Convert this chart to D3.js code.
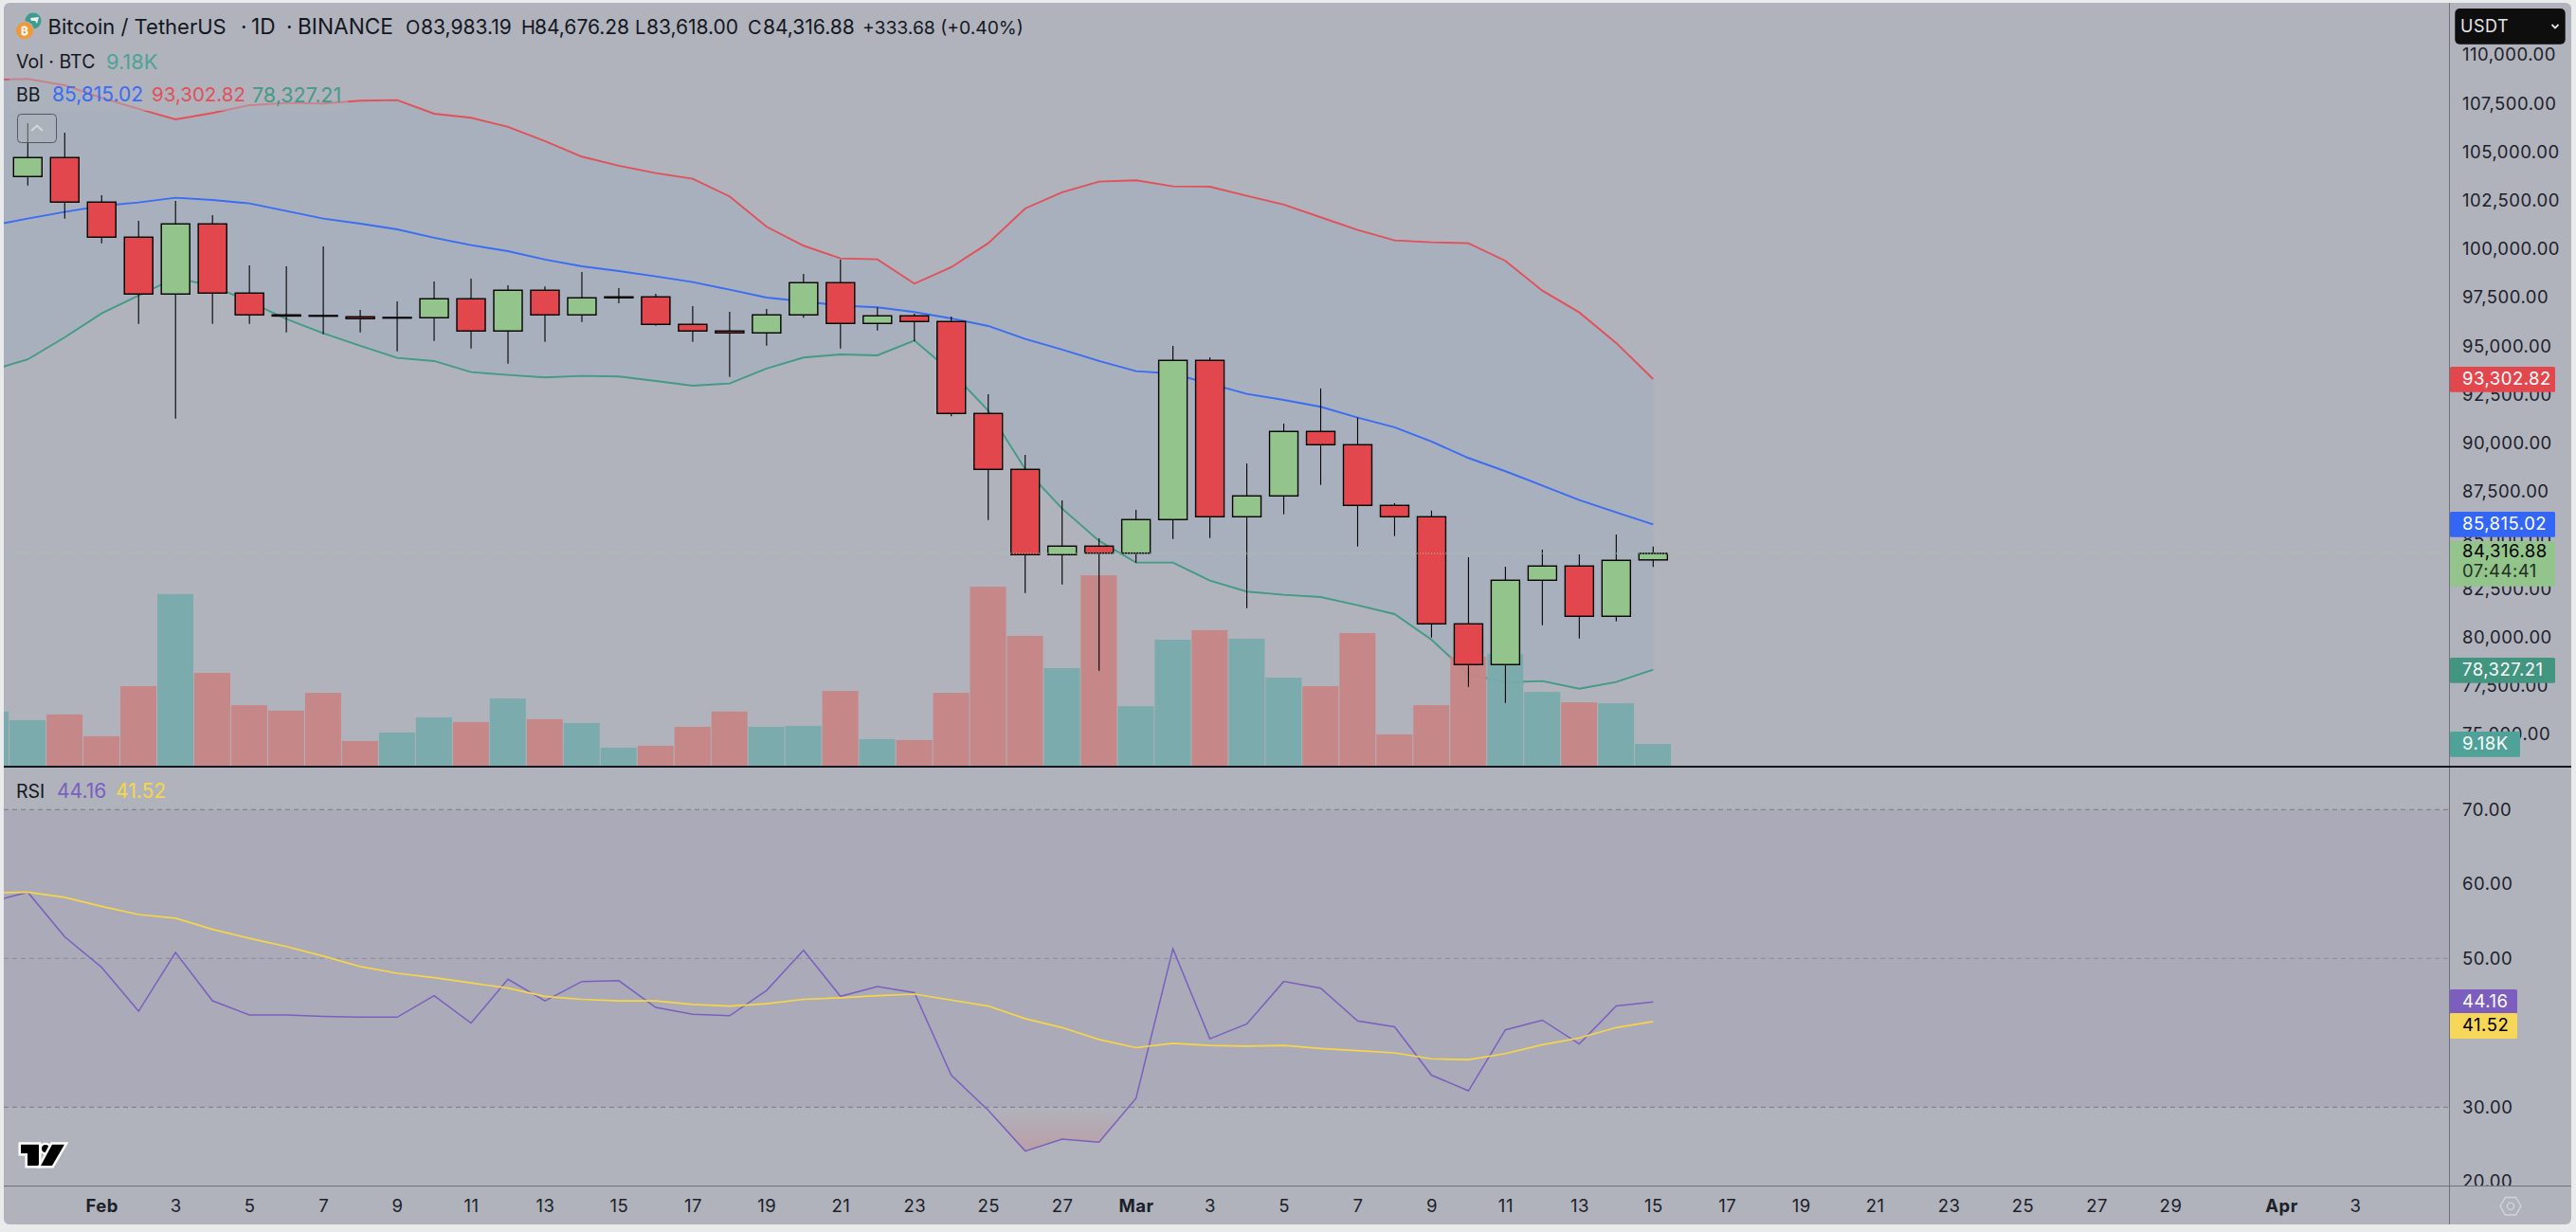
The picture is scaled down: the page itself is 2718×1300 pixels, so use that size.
<!DOCTYPE html>
<html>
<head>
<meta charset="utf-8">
<title>Bitcoin / TetherUS</title>
<style>
  body { margin: 0; background: #e9eaeb; }
  svg { display: block; }
  text { font-family: Inter, "Noto Sans", sans-serif; }
</style>
<script src="https://d3js.org/d3.v7.min.js"></script>
</head>
<body>
<div id="chart"></div>
<script>
// candles, first one is 30 Jan, last one is 15 Mar
var open = [103738,104715,102420,100613,97683,101297,97732,96609,96575,96511,96443,96462,97439,95779,97878,96609,97488,97537,96121,95779,95681,96609,98269,96169,96560,96267,91530,88649,84255,84694,84333,86062,94265,86208,87282,90603,89919,86794,86208,80690,78591,82936,83669,81081,83983.19];
var high = [106487,105999,102776,101458,102483,101751,99163,99114,100139,96868,97307,98332,98479,98137,98074,98821,97991,97698,97063,96770,96916,98723,99456,96999,96672,96526,92522,89397,87053,85100,86564,95012,94426,88957,91008,92815,91316,86906,86530,84123,83635,84514,84269,85295,84676.28];
var low = [103279,101570,100300,96150,91267,96150,96150,95710,95613,95710,94734,95271,94880,94099,95222,96247,97209,96052,95222,93415,95027,96462,94880,95808,95256,91384,86042,82282,82721,78278,83845,85065,85114,81501,86335,87849,84675,85212,79987,77448,76618,80622,79938,80817,83618];
var close = [104715,102420,100613,97683,101297,97732,96609,96550,96540,96413,96477,97439,95779,97878,96609,97488,97537,96121,95779,95681,96609,98269,96169,96560,96267,91530,88649,84255,84694,84333,86062,94265,86208,87282,90603,89919,86794,86208,80690,78591,82936,83669,81081,83962,84316.88];

// these start one day earlier, 29 Jan is cut by the left edge
var bbUpper = [108719,108767,108440,107791,107220,106682,107010,107415,107527,107498,107644,107674,106975,106765,106292,105559,104763,104290,103914,103621,102713,101150,100173,99519,99470,98220,99065,100300,102092,102923,103474,103543,103230,103215,102742,102288,101638,100984,100447,100349,100300,99392,97859,96736,95159,93302.82];
var bbBasis = [101199,101570,101912,102224,102400,102644,102532,102351,101961,101570,101311,101018,100579,100203,99895,99456,99114,98870,98591,98298,97908,97502,97307,97087,96999,96755,96428,96037,95369,94817,94231,93708,93581,93059,92536,92229,91872,91316,90813,90080,89235,88552,87819,87067,86433,85815.02];
var bbLower = [93742,94314,95452,96687,97600,98513,98103,97292,96394,95661,95012,94392,94231,93659,93513,93386,93464,93435,93205,92961,93074,93840,94411,94573,94524,95290,93679,91677,88664,86628,84968,83845,83845,82917,82350,82184,82072,81647,81193,79875,78102,77677,77741,77350,77692,78327.21];
var volume = [22.8,19.2,21.6,12.4,33.5,72.3,39.1,25.5,23.2,30.7,10.4,14.0,20.4,18.4,28.3,19.6,18.0,7.6,8.4,16.4,22.8,16.4,16.8,31.5,11.2,10.8,30.7,75.4,54.7,41.1,80.2,25.1,53.1,57.1,53.5,37.1,33.5,55.9,13.2,25.5,45.9,47.1,31.1,26.7,26.3,9.18];
var volumeUp = [1,1,0,0,0,1,0,0,0,0,0,1,1,0,1,0,1,1,0,0,0,1,1,0,1,0,0,0,0,1,0,1,1,0,1,1,0,0,0,0,0,1,1,0,1,1];
var rsi = [57.6,58.9,52.9,48.8,42.9,50.8,44.3,42.4,42.4,42.2,42.1,42.1,45.0,41.3,47.2,44.3,46.9,47.0,43.4,42.5,42.3,45.7,51.1,44.9,46.2,45.4,34.3,29.6,24.1,25.7,25.3,31.2,51.3,39.2,41.2,46.9,46.0,41.6,40.8,34.3,32.2,40.4,41.7,38.5,43.6,44.16];
var rsiMa = [58.8,58.9,58.2,57.0,55.9,55.4,53.9,52.7,51.6,50.3,48.9,48.0,47.4,46.7,46.0,44.9,44.5,44.3,44.3,43.8,43.6,43.9,44.5,44.7,45.0,45.2,44.4,43.6,41.9,40.7,39.1,38.0,38.6,38.3,38.2,38.3,37.9,37.6,37.3,36.5,36.4,37.2,38.4,39.3,40.7,41.52];

var priceTicks = d3.range(75000, 110001, 2500);
var rsiTicks = [20,30,40,50,60,70];
var rsiLevels = [70,50,30];
var dayTicks = [2,4,6,8,10,12,14,16,18,20,22,24,26,28,30,32,34,36,38,40,42,44,46,48,50,52,54,56,58,61,63];
var dayLabels = ["Feb","3","5","7","9","11","13","15","17","19","21","23","25","27","Mar","3","5","7","9","11","13","15","17","19","21","23","25","27","29","Apr","3"];

var ink = "#14171f", redC = "#e3474e", greenC = "#92c48b";
var blueL = "#3a6cf4", redL = "#e2505a", greenL = "#439a85", purple = "#7a5fc0", yellow = "#f6d648";

var svg = d3.select("#chart").append("svg").attr("width", 2718).attr("height", 1300);
var defs = svg.append("defs");

var x = d3.scaleLinear().domain([0, 44]).range([29.3, 1744.3]);
var y = d3.scaleLinear().domain([75000, 110000]).range([774.8, 58]);
var yVol = d3.scaleLinear().domain([0, 80]).range([808, 607.6]);
var yRsi = d3.scaleLinear().domain([20, 70]).range([1246.8, 854.3]);

defs.append("clipPath").attr("id", "mainClip").append("rect").attr("x", 4).attr("y", 3).attr("width", 2580).attr("height", 805);
defs.append("clipPath").attr("id", "rsiClip").append("rect").attr("x", 4).attr("y", 810).attr("width", 2580).attr("height", 441);
defs.append("clipPath").attr("id", "axisClip").append("rect").attr("x", 2585).attr("y", 3).attr("width", 128).attr("height", 1248);
defs.append("clipPath").attr("id", "below30").append("rect").attr("x", 4).attr("y", yRsi(30)).attr("width", 2580).attr("height", 100);
var grad = defs.append("linearGradient").attr("id", "osFill").attr("gradientUnits", "userSpaceOnUse")
  .attr("x1", 0).attr("y1", yRsi(30)).attr("x2", 0).attr("y2", yRsi(24));
grad.append("stop").attr("offset", "0%").attr("stop-color", "#e3474e").attr("stop-opacity", 0);
grad.append("stop").attr("offset", "100%").attr("stop-color", "#e3474e").attr("stop-opacity", 0.2);

// chart panel
svg.append("rect").attr("x", 4).attr("y", 3).attr("width", 2709).attr("height", 1289).attr("rx", 6).attr("fill", "#b0b3bc");

// ---- price pane
var main = svg.append("g").attr("clip-path", "url(#mainClip)");
var series = d3.range(bbBasis.length);

main.append("path").datum(series)
  .attr("fill", "#a9b0bd")
  .attr("d", d3.area().x(function(i) { return x(i - 1); })
    .y0(function(i) { return y(bbLower[i]); })
    .y1(function(i) { return y(bbUpper[i]); }));

[[bbUpper, redL], [bbBasis, blueL], [bbLower, greenL]].forEach(function(b) {
  main.append("path").datum(b[0])
    .attr("fill", "none").attr("stroke", b[1]).attr("stroke-width", 1.9)
    .attr("d", d3.line().x(function(d, i) { return x(i - 1); }).y(function(d) { return y(d); }));
});

main.selectAll(".vol").data(volume).enter().append("rect")
  .attr("class", "vol")
  .attr("x", function(d, i) { return x(i - 1) - 19.2; })
  .attr("width", 38)
  .attr("y", function(d) { return yVol(d); })
  .attr("height", function(d) { return yVol(0) - yVol(d); })
  .attr("fill", function(d, i) { return volumeUp[i] ? "#78abab" : "#c78585"; })
  .attr("opacity", 0.95);

var candle = main.selectAll(".candle").data(open).enter().append("g").attr("class", "candle");
candle.append("line")
  .attr("x1", function(d, i) { return x(i); }).attr("x2", function(d, i) { return x(i); })
  .attr("y1", function(d, i) { return y(high[i]); }).attr("y2", function(d, i) { return y(low[i]); })
  .attr("stroke", "#000").attr("stroke-width", 1.1);
candle.append("rect")
  .attr("x", function(d, i) { return x(i) - 15; })
  .attr("width", 30)
  .attr("y", function(d, i) { return y(Math.max(open[i], close[i])); })
  .attr("height", function(d, i) { return Math.max(0.5, Math.abs(y(open[i]) - y(close[i]))); })
  .attr("fill", function(d, i) { return close[i] >= open[i] ? greenC : redC; })
  .attr("stroke", "#000").attr("stroke-width", 1.4);

// last price line
main.append("line").attr("x1", 4).attr("x2", 2584).attr("y1", y(84316.88)).attr("y2", y(84316.88))
  .attr("stroke", "#9fd49a").attr("stroke-width", 1).attr("stroke-dasharray", "1 2");

// ---- rsi pane
var pane = svg.append("g").attr("clip-path", "url(#rsiClip)");
pane.append("rect").attr("x", 4).attr("width", 2580)
  .attr("y", yRsi(70)).attr("height", yRsi(30) - yRsi(70)).attr("fill", "#abaab9");
pane.selectAll(".level").data(rsiLevels).enter().append("line")
  .attr("class", "level")
  .attr("x1", 4).attr("x2", 2584)
  .attr("y1", function(d) { return yRsi(d); }).attr("y2", function(d) { return yRsi(d); })
  .attr("stroke", function(d) { return d == 50 ? "#8d8d99" : "#787a84"; })
  .attr("stroke-dasharray", "5 4");
pane.append("path").datum(rsi)
  .attr("clip-path", "url(#below30)")
  .attr("fill", "url(#osFill)")
  .attr("d", d3.area().x(function(d, i) { return x(i - 1); }).y0(yRsi(30)).y1(function(d) { return yRsi(d); }));
pane.append("path").datum(rsi)
  .attr("fill", "none").attr("stroke", purple).attr("stroke-width", 1.5)
  .attr("d", d3.line().x(function(d, i) { return x(i - 1); }).y(function(d) { return yRsi(d); }));
pane.append("path").datum(rsiMa)
  .attr("fill", "none").attr("stroke", yellow).attr("stroke-width", 1.7)
  .attr("d", d3.line().x(function(d, i) { return x(i - 1); }).y(function(d) { return yRsi(d); }));

// ---- axes
function styleAxis(g) {
  g.select(".domain").remove();
  g.selectAll("text").attr("fill", "#1d2029").style("font-size", "18.5px").style("letter-spacing", "0.5px").style("font-family", "Inter");
}
var axes = svg.append("g").attr("clip-path", "url(#axisClip)");
axes.append("g").attr("transform", "translate(2598,0)")
  .call(d3.axisRight(y).tickValues(priceTicks).tickSize(0).tickPadding(0).tickFormat(d3.format(",.2f")))
  .call(styleAxis);
axes.append("g").attr("transform", "translate(2598,0)")
  .call(d3.axisRight(yRsi).tickValues(rsiTicks).tickSize(0).tickPadding(0).tickFormat(d3.format(".2f")))
  .call(styleAxis);

var timeAxis = svg.append("g").attr("transform", "translate(0,1251)")
  .call(d3.axisBottom(x).tickValues(dayTicks).tickSize(0).tickPadding(0)
    .tickFormat(function(d) { return dayLabels[dayTicks.indexOf(d)]; }))
  .call(styleAxis);
timeAxis.selectAll("text").attr("y", 21.7).attr("dy", "0.35em")
  .style("font-weight", function(d) { return isNaN(+dayLabels[dayTicks.indexOf(d)]) ? 700 : 400; });

// separators
svg.append("line").attr("x1", 2584.5).attr("x2", 2584.5).attr("y1", 3).attr("y2", 1292).attr("stroke", "#6f727b").attr("stroke-width", 1);
svg.append("line").attr("x1", 4).attr("x2", 2713).attr("y1", 1251.5).attr("y2", 1251.5).attr("stroke", "#6f727b").attr("stroke-width", 1);
svg.append("line").attr("x1", 4).attr("x2", 2713).attr("y1", 809).attr("y2", 809).attr("stroke", "#14171f").attr("stroke-width", 2);

// ---- value labels on the right
var labels = [
  {t: 387, h: 26.7, w: 111, fill: redC, text: "93,302.82", c: "#fff"},
  {t: 540, h: 26.7, w: 111, fill: "#3366f5", text: "85,815.02", c: "#fff"},
  {t: 694, h: 26.7, w: 111, fill: "#42957f", text: "78,327.21", c: "#fff"},
  {t: 772, h: 26.7, w: 74, fill: "#4fa297", text: "9.18K", c: "#fff"},
  {t: 1044, h: 25.5, w: 71, fill: "#7b5ebd", text: "44.16", c: "#fff"},
  {t: 1069, h: 27, w: 71, fill: "#f7d75a", text: "41.52", c: "#000"}
];
labels.forEach(function(l) {
  svg.append("rect").attr("x", 2585).attr("y", l.t).attr("width", l.w).attr("height", l.h).attr("rx", 1.5).attr("fill", l.fill);
  svg.append("text").attr("x", 2598).attr("y", l.t + l.h / 2 - 0.5).attr("dy", "0.35em")
    .attr("fill", l.c).style("font-size", "18.5px").style("letter-spacing", "0.5px").text(l.text);
});
svg.append("rect").attr("x", 2585).attr("y", 571).attr("width", 111).attr("height", 47.7).attr("rx", 1.5).attr("fill", greenC);
svg.append("text").attr("x", 2598).attr("y", 582).attr("dy", "0.35em").attr("fill", "#000").style("font-size", "18.5px").style("letter-spacing", "0.5px").text("84,316.88");
svg.append("text").attr("x", 2598).attr("y", 603).attr("dy", "0.35em").attr("fill", "#243024").style("font-size", "18.5px").style("letter-spacing", "0.5px").text("07:44:41");

// USDT button
svg.append("rect").attr("x", 2590.3).attr("y", 9).attr("width", 116.4).attr("height", 37.7).attr("rx", 5).attr("fill", "#0e0e0f");
svg.append("text").attr("x", 2596).attr("y", 28).attr("dy", "0.35em").attr("fill", "#e4e5e8").style("font-size", "18px").style("letter-spacing", "0.5px").text("USDT");
svg.append("path").attr("d", "M2692.5 26 L2696 29.5 L2699.5 26").attr("fill", "none").attr("stroke", "#e4e5e8").attr("stroke-width", 1.8);

// settings hexagon
svg.append("path").attr("d", "M2638 1272.7 L2643.5 1263.5 L2654.5 1263.5 L2660 1272.7 L2654.5 1282 L2643.5 1282 Z")
  .attr("fill", "none").attr("stroke", "#d3d5da").attr("stroke-width", 1.3);
svg.append("circle").attr("cx", 2649).attr("cy", 1272.7).attr("r", 3.6).attr("fill", "none").attr("stroke", "#d3d5da").attr("stroke-width", 1.3);

// ---- legends
svg.append("rect").attr("x", 10).attr("y", 82).attr("width", 357).attr("height", 35).attr("fill", "#b0b3bc").attr("opacity", 0.5);

function legend(px, py, text, fill, size) {
  svg.append("text").attr("x", px).attr("y", py).attr("dy", "0.35em").attr("fill", fill)
    .style("font-size", (size || 21) + "px").text(text);
}
legend(50.5, 28, "Bitcoin / TetherUS", ink, 22);
legend(254, 28, "·", ink, 22.7);
legend(265, 28, "1D", ink, 22.7);
legend(302, 28, "·", ink, 22.7);
legend(314, 28, "BINANCE", ink, 22.7);
legend(428, 29, "O", ink, 20); legend(444, 29, "83,983.19", ink);
legend(550, 29, "H", ink, 20); legend(564, 29, "84,676.28", ink);
legend(670, 29, "L", ink, 20); legend(682, 29, "83,618.00", ink);
legend(789, 29, "C", ink, 20); legend(805, 29, "84,316.88", ink);
legend(910, 29, "+333.68 (+0.40%)", ink, 19.3);

legend(17, 65, "Vol · BTC", ink, 19.5);
legend(112, 65, "9.18K", "#4fa297", 21.8);

legend(17, 100, "BB", ink, 19.5);
legend(55, 100, "85,815.02", blueL);
legend(160, 100, "93,302.82", redL, 20.5);
legend(266, 100, "78,327.21", greenL, 21.5);

legend(17, 835, "RSI", ink, 19.5);
legend(60, 835, "44.16", purple);
legend(122, 835, "41.52", yellow);

// collapse button
svg.append("rect").attr("x", 18.5).attr("y", 120.5).attr("width", 41).attr("height", 30).attr("rx", 4)
  .attr("fill", "#b0b3bc").attr("fill-opacity", 0.5).attr("stroke", "#55585f").attr("stroke-width", 1);
svg.append("path").attr("d", "M33 138 L39 132.5 L45 138").attr("fill", "none").attr("stroke", "#d5d7dc").attr("stroke-width", 2);

// symbol icons
svg.append("circle").attr("cx", 35).attr("cy", 22).attr("r", 8.5).attr("fill", "#3f9a8f");
svg.append("path").attr("d", "M32 19 L41 18 L39 25 L37 22 L33 22 Z").attr("fill", "#e6f2f0");
svg.append("circle").attr("cx", 26).attr("cy", 32.3).attr("r", 10).attr("fill", "#b0b3bc");
svg.append("circle").attr("cx", 26).attr("cy", 32.3).attr("r", 9).attr("fill", "#f0993a");
svg.append("text").attr("x", 26).attr("y", 32.5).attr("dy", "0.35em").attr("text-anchor", "middle")
  .attr("fill", "#fff").style("font-size", "12px").style("font-weight", 700).text("₿");

// tv logo
var logo = svg.append("g").attr("fill", "#000").attr("stroke", "#fff").attr("stroke-width", 5).style("paint-order", "stroke");
logo.append("path").attr("d", "M22 1207.7 H41 V1230 H29 V1217 H22 Z");
logo.append("circle").attr("cx", 48).attr("cy", 1212).attr("r", 4);
logo.append("path").attr("d", "M55 1207.7 H68 L55 1230 H43 Z");
</script>
</body>
</html>
